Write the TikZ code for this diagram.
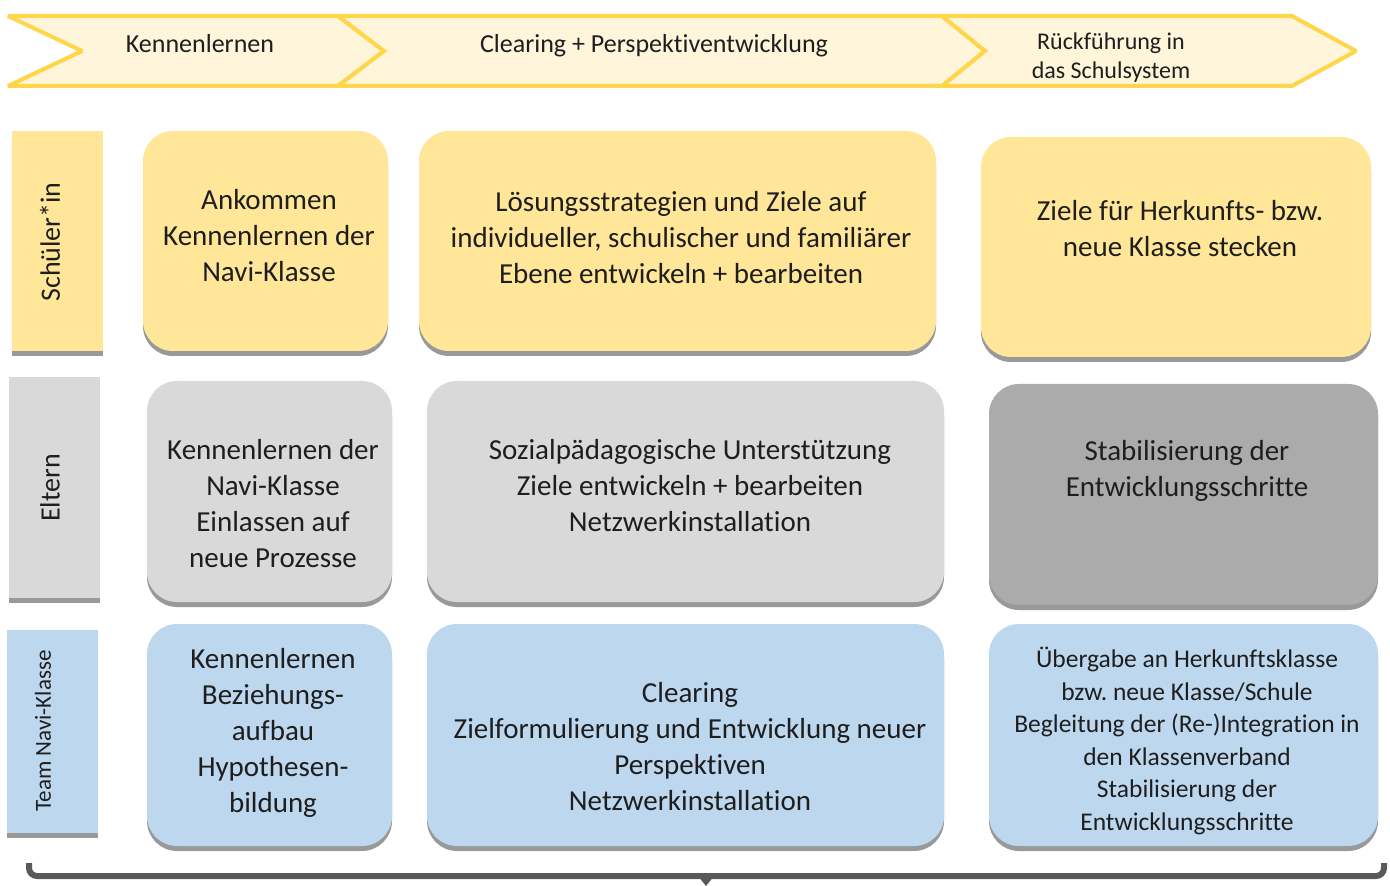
\documentclass[tikz,border=0pt]{standalone}
\usepackage{fontspec}
\setmainfont{Carlito}[Ligatures=NoCommon]
\usepackage{tikz}
\usetikzlibrary{positioning}
\frenchspacing

\definecolor{kopfrand}{HTML}{FFD54A}
\definecolor{kopffill}{HTML}{FFF5DB}
\definecolor{gelb}{HTML}{FFE699}
\definecolor{hellgrau}{HTML}{D9D9D9}
\definecolor{dunkelgrau}{HTML}{ABABAB}
\definecolor{hellblau}{HTML}{BDD7EE}
\definecolor{schattengrau}{HTML}{999999}
\definecolor{klammer}{HTML}{595959}
\definecolor{schrift}{HTML}{1E1E1E}

\tikzset{
  kopf/.style={draw=kopfrand,fill=kopffill,line width=2pt,line join=miter,miter limit=2},
  kopftext/.style={text=schrift,align=center,anchor=base,font=\fontsize{13pt}{14.5pt}\selectfont},
  kasten/.style={fill=#1,rounded corners=15pt},
  schatten/.style={fill=schattengrau,rounded corners=15pt},
  kastentext/.style={text=schrift,align=center,font=\fontsize{14.5pt}{18pt}\selectfont},
  zeile/.style={text=schrift,rotate=90,font=\fontsize{14pt}{16pt}\selectfont}
}

\begin{document}
\begin{tikzpicture}[x=0.5pt,y=-0.5pt]
      \useasboundingbox (0,0) rectangle (1390,886);
      % Phasen oben
      \path[kopf] (8,16) -- (338,16) -- (384,51) -- (338,86) -- (8,86) -- (82,51) -- cycle;
      \path[kopf] (338,16) -- (942,16) -- (985,51) -- (942,86) -- (338,86) -- (384,51) -- cycle;
      \path[kopf] (942,16) -- (1292,16) -- (1356,51) -- (1292,86) -- (942,86) -- (985,51) -- cycle;
      \node[kopftext] (kennen) at (200,53) {Kennenlernen};
      \node[kopftext] (clearing) at (654,53) {Clearing + Perspektiventwicklung};
      \node[kopftext,font=\fontsize{12pt}{14.5pt}\selectfont] (rueck) at (1111,79) {R\"uckf\"uhrung in\\das Schulsystem};
      % Zeilenbeschriftung
      \foreach \xa/\ya/\xb/\yb/\farbe in {12/131/103/351/gelb, 9/377/100/598/hellgrau, 7/630/98/833/hellblau} {
        \path[fill=\farbe] (\xa,\ya) rectangle (\xb,\yb);
        \path[fill=schattengrau] (\xa,\yb) rectangle (\xb,\yb+5);
      }
      \node[zeile] (schueler) at (50,242) {Sch\"uler*in};
      \node[zeile] (eltern) at (50,488) {Eltern};
      \node[zeile,font=\fontsize{11.5pt}{13pt}\selectfont] (team) at (43,731) {Team Navi-Klasse};
      % Kaesten
      \foreach \xa/\ya/\xb/\yb/\farbe in {
          143/131/388/351/gelb, 419/131/936/351/gelb, 981/137/1371/357/gelb,
          147/381/392/602/hellgrau, 427/381/944/602/hellgrau, 989/384/1378/605/dunkelgrau,
          147/624/392/846/hellblau, 427/624/944/846/hellblau, 989/624/1378/846/hellblau} {
        \path[schatten] (\xa,\ya+5) rectangle (\xb,\yb+5);
        \path[kasten=\farbe] (\xa,\ya) rectangle (\xb,\yb);
      }
      \node[kastentext] (ankommen) at (269,236) {Ankommen\\Kennenlernen der\\Navi-Klasse};
      \node[kastentext] (loesung) at (681,238) {L\"osungsstrategien und Ziele auf\\individueller, schulischer und famili\"arer\\Ebene entwickeln + bearbeiten};
      \node[kastentext] (ziele) at (1180,229) {Ziele f\"ur Herkunfts- bzw.\\neue Klasse stecken};
      \node[kastentext] (einlassen) at (273,504) {Kennenlernen der\\Navi-Klasse\\Einlassen auf\\neue Prozesse};
      \node[kastentext] (sozial) at (690,486) {Sozialp\"adagogische Unterst\"utzung\\Ziele entwickeln + bearbeiten\\Netzwerkinstallation};
      \node[kastentext] (stabil) at (1187,471) {Stabilisierung der\\Entwicklungsschritte};
      \node[kastentext] (beziehung) at (273,733) {Kennenlernen\\Beziehungs-\\aufbau\\Hypothesen-\\bildung};
      \node[kastentext] (zielform) at (690,747) {Clearing\\Zielformulierung und Entwicklung neuer\\Perspektiven\\Netzwerkinstallation};
      \node[kastentext,font=\fontsize{12.75pt}{16.25pt}\selectfont] (uebergabe) at (1187,741) {\"Ubergabe an Herkunftsklasse\\bzw. neue Klasse/Schule\\Begleitung der (Re-)Integration in\\den Klassenverband\\Stabilisierung der\\Entwicklungsschritte};
      % Klammer unten
      \draw[klammer,line width=3pt,rounded corners=4pt] (29,863) -- (29,876) -- (1384,876) -- (1384,863);
      \path[fill=klammer] (698,876) -- (714,876) -- (706,886) -- cycle;
    \end{tikzpicture}
\end{document}
